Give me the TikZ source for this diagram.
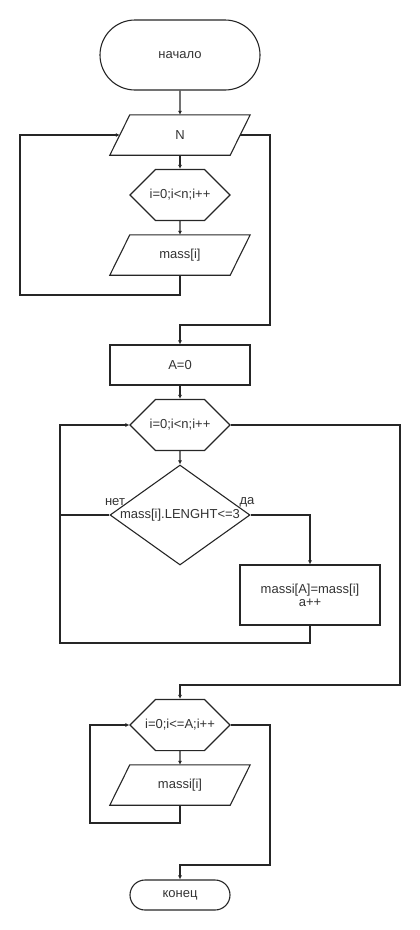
\documentclass[tikz,border=0pt]{standalone}
\usepackage{fontspec}
\setmainfont{Liberation Sans}
\usetikzlibrary{
    arrows.meta,
    shapes.geometric,
    shapes.misc
}

% slanted outline round a data node
\newcommand{\ioframe}[1]{%
    \draw[line] ([xshift=10pt]#1.north west) -- ([xshift=10pt]#1.north east)
        -- ([xshift=-10pt]#1.south east) -- ([xshift=-10pt]#1.south west) -- cycle;}

\begin{document}
\begin{tikzpicture}[x=1pt, y=-1pt,
    every node/.style={font=\fontsize{13}{15}\selectfont, text=black!80},
    line/.style={line width=1.1pt, draw=black!85},
    flow/.style={line, -{Latex[length=4pt,width=4pt]}},
    termbox/.style={line, rounded rectangle, minimum width=160pt, minimum height=70pt, inner sep=0pt},
    iobox/.style={rectangle, minimum width=120pt, minimum height=40pt, inner sep=0pt},
    cyclebox/.style={line, chamfered rectangle, chamfered rectangle xsep=8pt,
        chamfered rectangle ysep=20pt, minimum width=100pt, minimum height=40pt, inner sep=0pt},
    procbox/.style={line, rectangle, minimum width=140pt, minimum height=40pt, align=center},
    decisionbox/.style={line, diamond, minimum width=140pt, minimum height=100pt, inner sep=0pt}
]

% Page
\useasboundingbox (0,0) rectangle (420,930);

% Start
\node[termbox] (start) at (180,55) {начало};

% Input of n and the array
\node[iobox] (inN) at (180,135) {N};
\ioframe{inN}
\node[cyclebox] (forRead) at (180,195) {i=0;i<n;i++};
\node[iobox] (inMass) at (180,255) {mass[i]};
\ioframe{inMass}

% Counter
\node[procbox] (initA) at (180,365) {A=0};

% Filter loop
\node[cyclebox] (forCheck) at (180,425) {i=0;i<n;i++};
\node[decisionbox] (cond) at (180,515) {};
\node (condText) at (cond) {mass[i].LENGHT<=3};
\node (noLbl) at (115,502) {нет};
\node (yesLbl) at (247,502) {да};
\node[procbox, minimum height=60pt] (copy) at (310,595) {massi[A]=mass[i]\\[-2pt]a++};

% Output loop
\node[cyclebox] (forPrint) at (180,725) {i=0;i<=A;i++};
\node[iobox] (outMassi) at (180,785) {massi[i]};
\ioframe{outMassi}

% End
\node[termbox, minimum width=100pt, minimum height=30pt] (finish) at (180,895) {конец};

% Corner points of the loops
\coordinate (readBack) at (20,295);
\coordinate (readExit) at (270,325);
\coordinate (checkBack) at (60,643);
\coordinate (checkExit) at (400,685);
\coordinate (printBack) at (90,823);
\coordinate (printExit) at (270,865);
\coordinate (noEnd) at (60,515);

% Connectors
\draw[flow] (start) -- (inN);
\draw[flow] (inN) -- (forRead);
\draw[flow] (forRead) -- (inMass);
\draw[flow] (inMass.south) |- (readBack) |- (inN.west);
\draw[flow] (inN.east) -| (readExit) -| (initA.north);
\draw[flow] (initA) -- (forCheck);
\draw[flow] (forCheck) -- (cond);
\draw[flow] (cond.east) -| (copy.north);
\draw[line] (cond.west) -- (noEnd);
\draw[flow] (copy.south) |- (checkBack) |- (forCheck.west);
\draw[flow] (forCheck.east) -| (checkExit) -| (forPrint.north);
\draw[flow] (forPrint) -- (outMassi);
\draw[flow] (outMassi.south) |- (printBack) |- (forPrint.west);
\draw[flow] (forPrint.east) -| (printExit) -| (finish.north);

\end{tikzpicture}
\end{document}
